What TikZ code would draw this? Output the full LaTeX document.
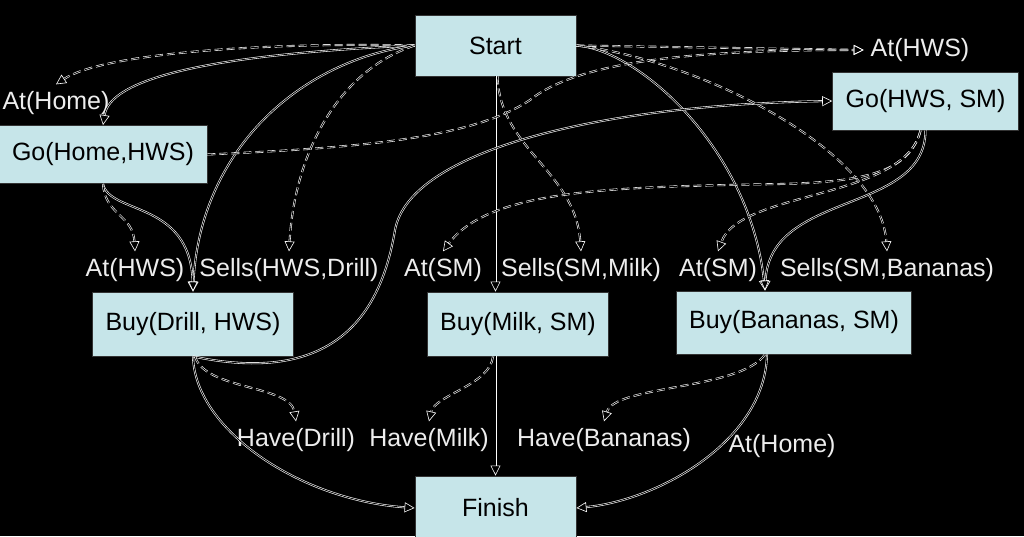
\documentclass[tikz,border=0pt]{standalone}
\usepackage{fontspec}
\setmainfont{Liberation Sans}
\usetikzlibrary{arrows.meta}
\definecolor{ccaja}{HTML}{C6E5E9}
\definecolor{cetq}{HTML}{EDEDED}
\tikzset{
  accion/.style={rectangle, draw=black!80, fill=ccaja, line width=0.9pt, inner xsep=13pt,
                 minimum height=58pt, font=\fontsize{25}{28}\selectfont},
  cond/.style={inner sep=1pt, outer sep=6pt, text=cetq, font=\fontsize{25}{28}\selectfont},
  enlace/.style={draw=white, double=black, line width=0.6pt, double distance=0.8pt,
                 -{Triangle[open, length=10pt, width=10pt]}},
  orden/.style={enlace, dash pattern=on 8pt off 4pt},
}
\begin{document}
\begin{tikzpicture}[x=1pt, y=-1pt]
        \useasboundingbox (0,0) rectangle (1024,536);
        \fill[black] (0,0) rectangle (1024,536);
        % acciones
        \node[accion, minimum width=161pt, minimum height=61pt] (start) at (495.5,45.5) {Start};
        \node[accion] (gohome) at (103,154.5) {Go(Home,HWS)};
        \node[accion] (gohws) at (925.5,101) {Go(HWS, SM)};
        \node[accion, minimum height=64pt] (drill) at (193,324) {Buy(Drill, HWS)};
        \node[accion, minimum height=64pt] (milk) at (518,324) {Buy(Milk, SM)};
        \node[accion, minimum height=63pt] (bananas) at (794,322.5) {Buy(Bananas, SM)};
        \node[accion, minimum width=161pt, minimum height=64pt] (finish) at (495.5,508) {Finish};
        % condiciones
        \node[cond] (athws) at (920,50) {At(HWS)};
        \node[cond] (athome) at (56,103) {At(Home)};
        \node[cond] (athws2) at (135,270) {At(HWS)};
        \node[cond] (sellsdrill) at (289,270) {Sells(HWS,Drill)};
        \node[cond] (atsm) at (443,270) {At(SM)};
        \node[cond] (sellsmilk) at (581,270) {Sells(SM,Milk)};
        \node[cond] (atsm2) at (718,270) {At(SM)};
        \node[cond] (sellsban) at (887,270) {Sells(SM,Bananas)};
        \node[cond] (havedrill) at (296,440) {Have(Drill)};
        \node[cond] (havemilk) at (429,440) {Have(Milk)};
        \node[cond] (haveban) at (604,440) {Have(Bananas)};
        \node[cond] (athome2) at (782,446) {At(Home)};
        % enlaces causales
        \draw[enlace] (start.west) .. controls (200,55) and (110,80) .. (gohome.north);
        \draw[enlace] (start.west) .. controls (300,60) and (200,150) .. (drill.north);
        \draw[enlace] (gohome.south) .. controls (110,215) and (190,200) .. (drill.north);
        \draw[enlace] (start.south) -- (start.south |- milk.north);
        \draw[enlace] (start.east) .. controls (640,50) and (750,150) .. ([xshift=-29pt]bananas.north);
        \draw[enlace] (drill.south) .. controls (330,385) and (380,320) .. (395,230)
                      .. controls (410,150) and (600,105) .. (gohws.west);
        \draw[enlace] (gohws.south) .. controls (925,215) and (770,190) .. ([xshift=-29pt]bananas.north);
        \draw[enlace] (milk.south -| finish.north) -- (finish.north);
        \draw[enlace] (drill.south) .. controls (195,430) and (300,500) .. (finish.west);
        \draw[enlace] ([xshift=-27pt]bananas.south) .. controls (765,440) and (660,500) .. (finish.east);
        % orden
        \draw[orden] (start.west) .. controls (250,42) and (100,55) .. (athome.north);
        \draw[orden] (start.east) -- (athws.west);
        \draw[orden] (gohome.east) .. controls (350,148) and (470,140) .. (530,100)
                     .. controls (580,60) and (700,50) .. (athws.west);
        \draw[orden] (start.west) .. controls (340,70) and (295,150) .. (sellsdrill.north);
        \draw[orden] (gohome.south) .. controls (105,215) and (133,215) .. (athws2.north);
        \draw[orden] ([xshift=2pt]start.south) .. controls (500,150) and (575,170) .. (sellsmilk.north);
        \draw[orden] (start.east) .. controls (700,60) and (880,150) .. (sellsban.north);
        \draw[orden] ([xshift=-5pt]gohws.south) .. controls (910,170) and (870,182) .. (780,184)
                     .. controls (620,187) and (490,188) .. (atsm.north);
        \draw[orden] ([xshift=-5pt]gohws.south) .. controls (905,200) and (740,190) .. (atsm2.north);
        \draw[orden] ([xshift=2pt]drill.south) .. controls (205,390) and (290,385) .. (havedrill.north);
        \draw[orden] ([xshift=-25pt]milk.south) .. controls (490,385) and (435,395) .. (havemilk.north);
        \draw[orden] ([xshift=-29pt]bananas.south) .. controls (740,390) and (615,385) .. (haveban.north);
    \end{tikzpicture}
\end{document}
